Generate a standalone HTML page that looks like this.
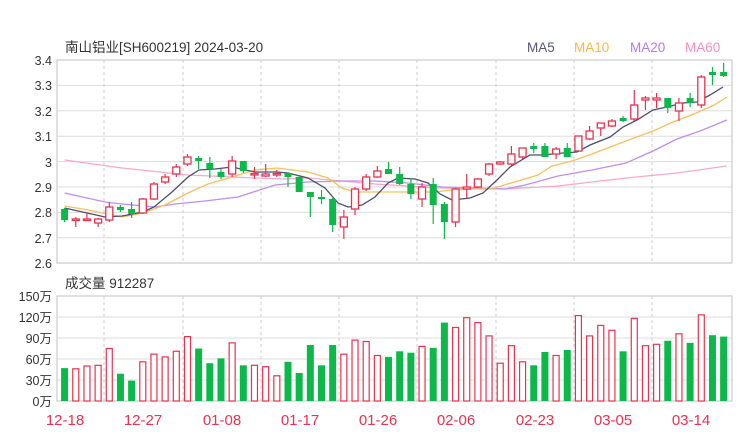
<!DOCTYPE html>
<html><head><meta charset="utf-8"><style>
html,body{margin:0;padding:0;background:#fff;}
svg{display:block;font-family:"Liberation Sans","Noto Sans CJK SC",sans-serif;}
</style></head><body>
<svg id="s" width="740" height="440" viewBox="0 0 740 440">
<rect x="0" y="0" width="740" height="440" fill="#fff"/>
<text x="65" y="52" font-size="13.5" fill="#333">南山铝业[SH600219] 2024-03-20</text>
<text x="527" y="52" font-size="13.5" fill="#555577">MA5</text>
<text x="574" y="52" font-size="13.5" fill="#f7b84a">MA10</text>
<text x="630" y="52" font-size="13.5" fill="#b07ee0">MA20</text>
<text x="685" y="52" font-size="13.5" fill="#f590c0">MA60</text>
<text x="65" y="288" font-size="13.5" fill="#333">成交量 912287</text>
<g font-size="12.5" fill="#333" text-anchor="end">
<text x="52" y="65">3.4</text><text x="52" y="90">3.3</text><text x="52" y="116">3.2</text><text x="52" y="141">3.1</text><text x="52" y="167">3</text><text x="52" y="192">2.9</text><text x="52" y="217">2.8</text><text x="52" y="243">2.7</text><text x="52" y="268">2.6</text>
<text x="52" y="301">150万</text><text x="52" y="322">120万</text><text x="52" y="343">90万</text><text x="52" y="364">60万</text><text x="52" y="385">30万</text><text x="52" y="406">0万</text>
</g>
<g font-size="15" fill="#e8334f" text-anchor="middle">
<text x="65" y="425">12-18</text><text x="143" y="425">12-27</text><text x="222" y="425">01-08</text><text x="300" y="425">01-17</text><text x="378" y="425">01-26</text><text x="456" y="425">02-06</text><text x="535" y="425">02-23</text><text x="613" y="425">03-05</text><text x="691" y="425">03-14</text>
</g>
<g id="grid"></g>
<g id="ma" fill="none" stroke-width="1.3">
<polyline stroke="#f7a8cf" points="64.6,160 122,168 188,175 255,178 285,179 308,178 375,184 442,188 505,189 558,186 626,178 677,173 727,166"/>
<polyline stroke="#c08fe8" points="64.6,193 105,202 122,204 155,207 175,204 205,201 238,197 275,185 308,182 342,181 375,181 408,183 442,187 475,188 505,189 525,185 558,176 592,170 626,163 653,151 677,139 700,131 727,120"/>
<polyline stroke="#f7bf5e" points="64.6,206 88,210 122,217 143,213 165,205 188,193 208,184 232,177 255,170 277,168 308,172 328,178 342,188 355,192 375,192 408,192 435,192 452,190 475,189 491,189 511,183 538,175 552,166 572,161 592,154 626,141 653,131 673,122 694,114 714,105 727,97"/>
<polyline stroke="#4d4d6e" points="64.6,208 105,217 122,216 143,212 154,207 172,192 188,177 199,170 215,169 232,167 255,172 277,172 288,173 308,178 325,188 338,203 348,207 362,205 375,197 388,183 398,178 415,179 428,183 440,194 452,200 470,198 483,193 497,180 510,167 530,155 543,155 563,153 577,152 590,145 610,137 623,127 637,120 653,110 667,107 683,103 697,102 710,95 723,87"/>
</g>
<g id="c"></g>
</svg>
<script>
var ns="http://www.w3.org/2000/svg";
function el(p,t,a){var e=document.createElementNS(ns,t);for(var k in a)e.setAttribute(k,a[k]);p.appendChild(e);return e;}
var g=document.getElementById('grid');
[60,85.4,110.8,136.2,161.6,187,212.4,237.8].forEach(function(y){el(g,'line',{x1:57,x2:732,y1:y,y2:y,stroke:'#ddd','stroke-width':1});});
[317,338,359,380].forEach(function(y){el(g,'line',{x1:57,x2:732,y1:y,y2:y,stroke:'#ddd','stroke-width':1});});
el(g,'rect',{x:57,y:60,width:675,height:203,fill:'none',stroke:'#ccc','stroke-width':1.2});
el(g,'rect',{x:57,y:296,width:675,height:105,fill:'none',stroke:'#ccc','stroke-width':1.2});
[104,183,261,339,417,496,574,652].forEach(function(x){
 el(g,'line',{x1:x,x2:x,y1:60,y2:263,stroke:'#ccc','stroke-dasharray':'3,3'});
 el(g,'line',{x1:x,x2:x,y1:296,y2:401,stroke:'#ccc','stroke-dasharray':'3,3'});
});
// [bodyTop, bodyBottom, wickHi, wickLo]
var C=[[209,220,208,222],[219,220,217,227],[219,220,213,221],[219,223,218,227],[207,220,202,222],[207,210,205,212],[209,214,202,218],[199,213,198,214],[184,199,182,200],[177,182,174,184],
[167,174,164,177],[157,164,154,166],[158,161,156,169],[163,169,157,178],[172,177,169,179],[161,174,156,177],[161,171,161,173],[173.5,175,167,179],[174,176,164,177],[173.5,175,170,177],
[173,177,173,187],[177,192,175,192],[192,197,192,217],[197,199,190,204],[199,225,198,232],[217,227,210,239],[189,209,187,215],[177,189,174,191],[171,177,166,178],[169,174,162,174],
[174,184,167,185],[184,194,178,199],[187,199,183,207],[184,205,178,224],[204,222,202,239],[189,222,188,227],[187,189,174,198],[179,187,178,188],[164,174,163,176],[162,164,161,165],
[154,164,146,167],[148,157,148,159],[146,149,143,153],[146,157,143,157],[149,154,147,159],[148,157,143,157],[136,151,136,152],[131,139,126,140],[123,128,123,136],[121,126,119,127],
[118,121,116,122],[105,119,90,121],[98,100,96,110],[98,100,93,108],[98,108,98,113],[103,111,98,121],[98,103,93,107],[77,105,75,108],[72,75,67,85],[72,76,63,77]];
var V=[[47,'g'],[46,'r'],[50,'r'],[51,'r'],[75,'r'],[39,'g'],[29,'g'],[56,'r'],[67,'r'],[63,'r'],[71,'r'],[92,'r'],[75,'g'],[54,'g'],[61,'g'],[83,'r'],[51,'g'],[51,'r'],[49,'r'],[36,'r'],
[56,'g'],[40,'g'],[80,'g'],[51,'g'],[80,'g'],[67,'r'],[87,'r'],[85,'r'],[65,'r'],[63,'g'],[71,'g'],[69,'g'],[78,'r'],[76,'g'],[112,'g'],[105,'r'],[119,'r'],[112,'r'],[93,'r'],[54,'r'],
[79,'r'],[56,'r'],[51,'g'],[70,'g'],[65,'r'],[73,'g'],[122,'r'],[93,'r'],[108,'r'],[101,'r'],[71,'g'],[118,'r'],[79,'r'],[81,'r'],[86,'g'],[96,'r'],[83,'g'],[123,'r'],[94,'g'],[92,'g']];
var cg=document.getElementById('c'),R='#e8334f',G='#0cb84a';
for(var i=0;i<60;i++){
 var x=64.6+i*11.17,c=C[i],col=V[i][1]=='r'?R:G;
 el(cg,'line',{x1:x,x2:x,y1:c[2],y2:c[3],stroke:col,'stroke-width':1.2});
 var h=Math.max(c[1]-c[0],1.5);
 if(col==R) el(cg,'rect',{x:x-3.5,y:c[0],width:7,height:h,fill:'#fff',stroke:col,'stroke-width':1.3});
 else el(cg,'rect',{x:x-3.5,y:c[0],width:7,height:h,fill:col});
 var vy=401-V[i][0]*0.7;
 if(col==R) el(cg,'rect',{x:x-3,y:vy,width:6,height:401-vy,fill:'#fff',stroke:col,'stroke-width':1.2});
 else el(cg,'rect',{x:x-3.5,y:vy,width:7,height:401-vy,fill:col});
}
</script>
</body></html>
